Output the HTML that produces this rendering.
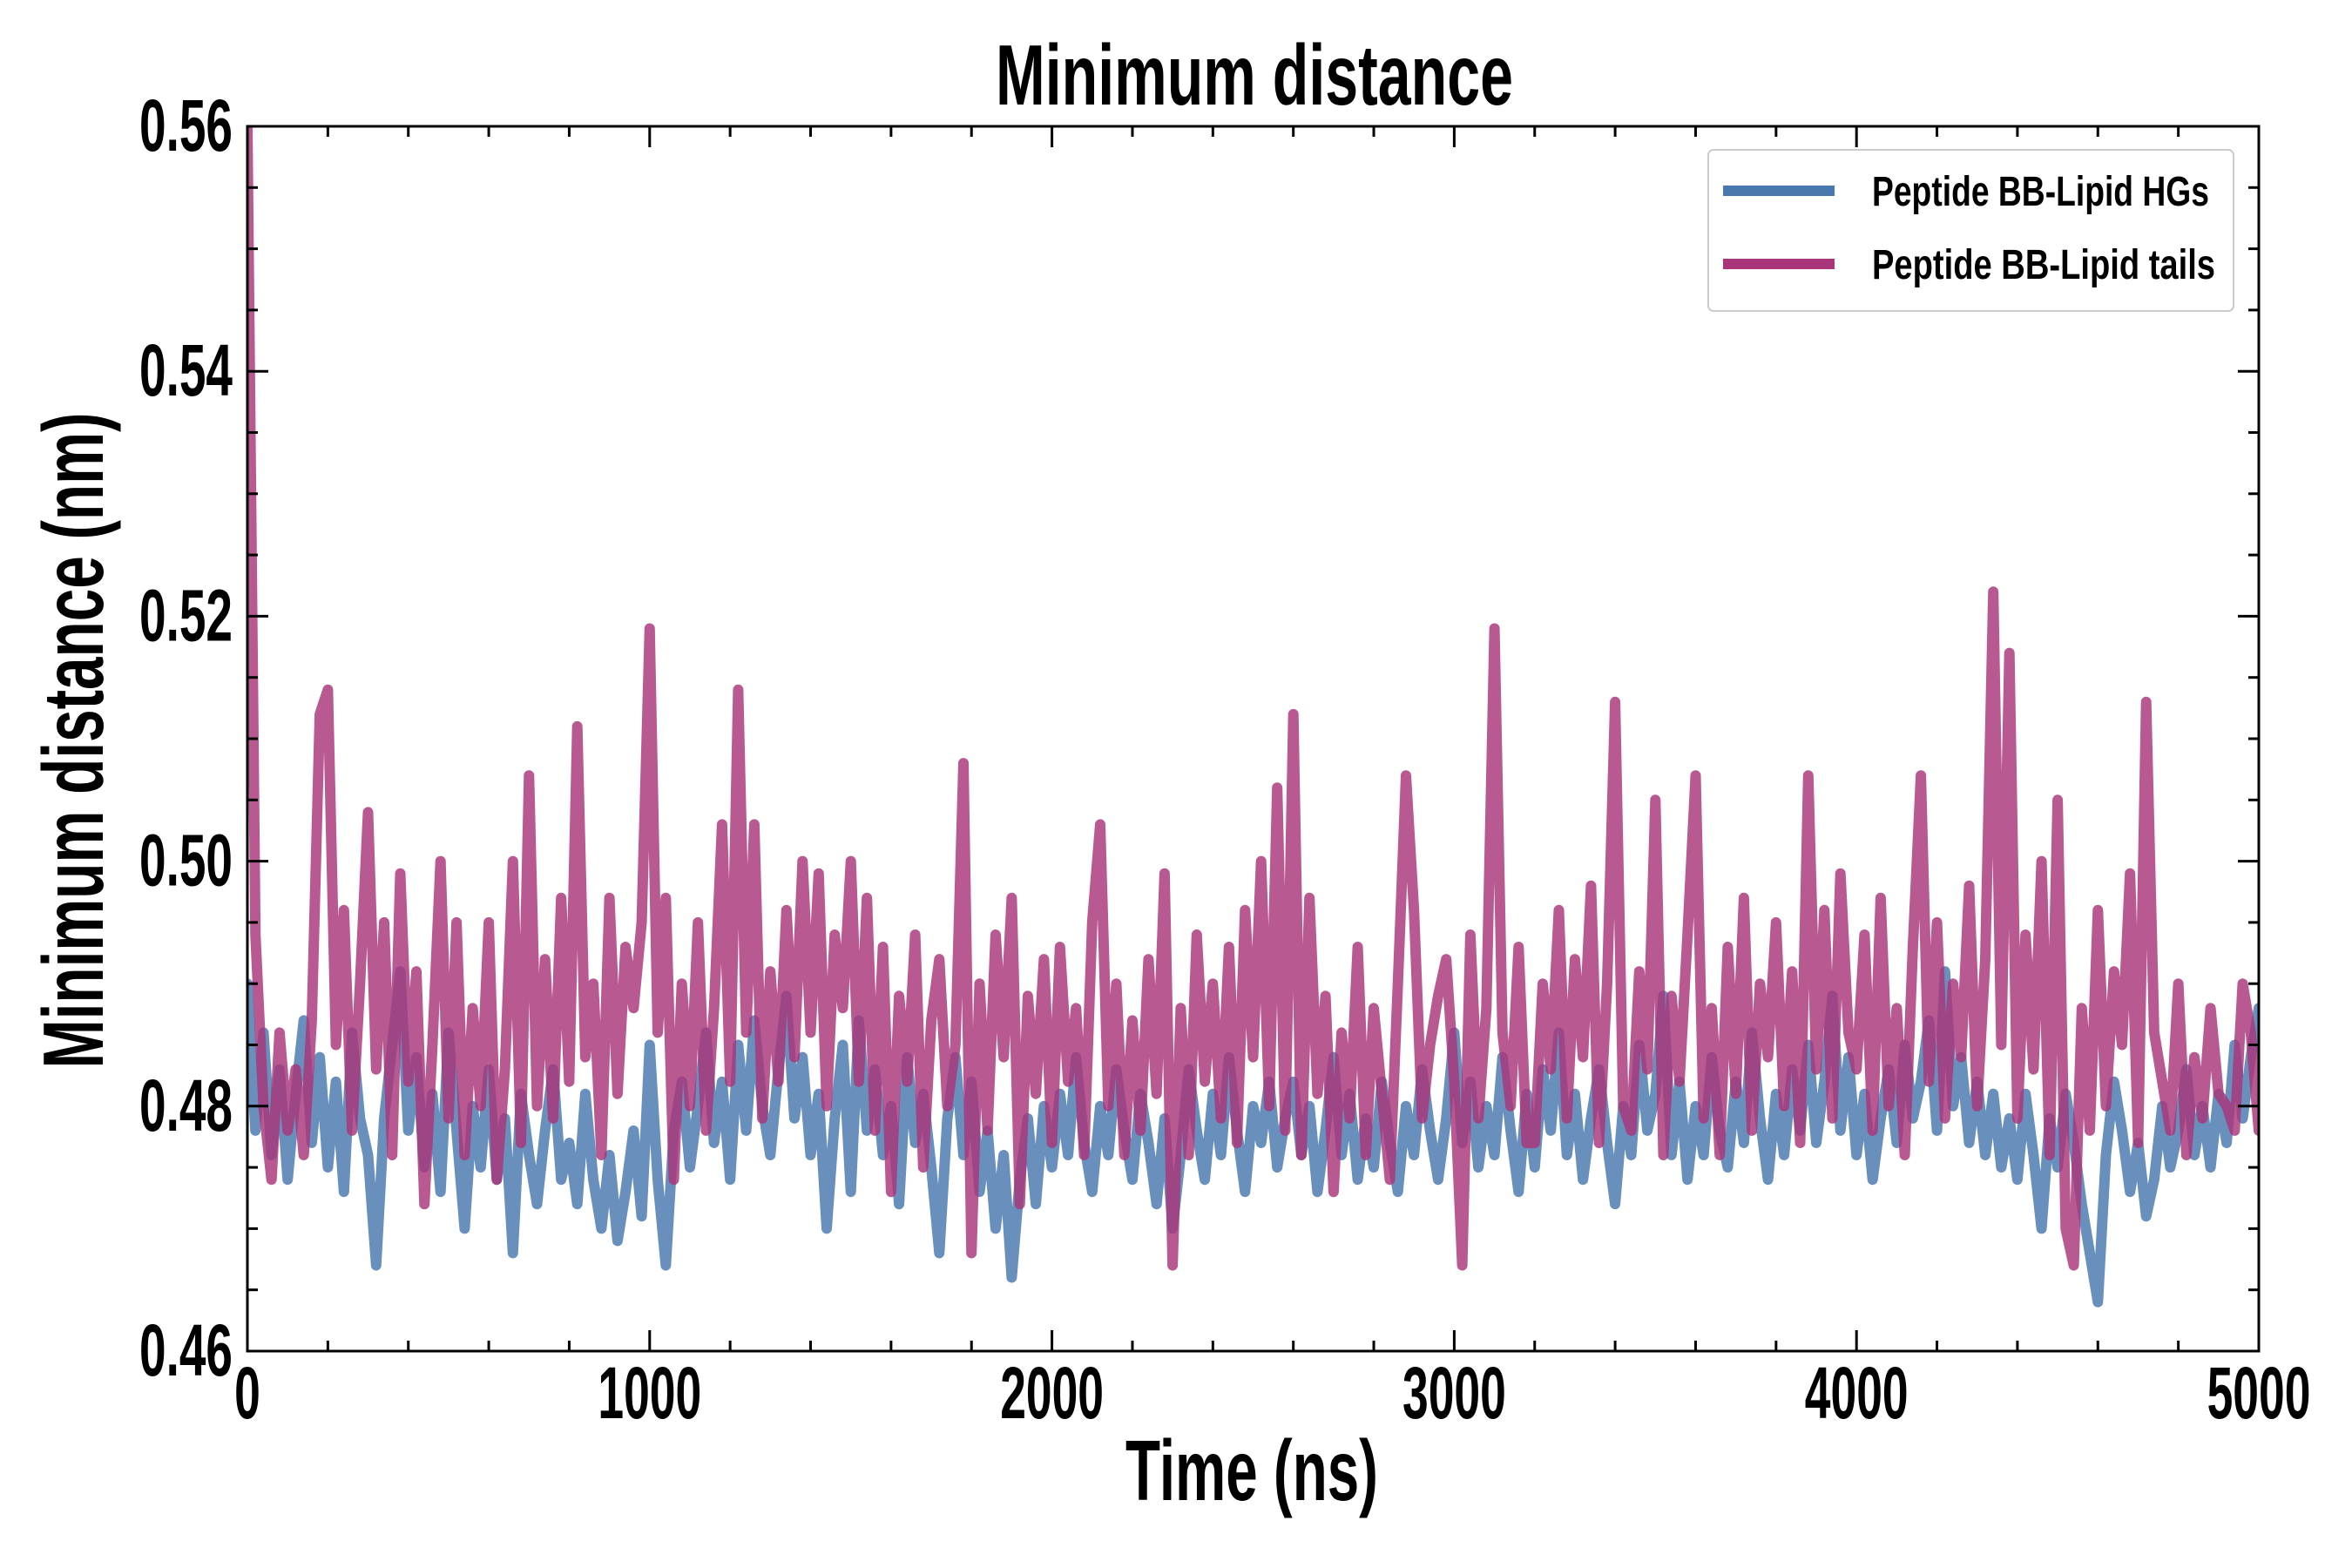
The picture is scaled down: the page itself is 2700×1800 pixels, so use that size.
<!DOCTYPE html>
<html><head><meta charset="utf-8"><title>Minimum distance</title>
<style>html,body{margin:0;padding:0;background:#fff;}svg{display:block;}
text{font-family:"Liberation Sans Narrow","Liberation Sans",sans-serif;font-weight:bold;fill:#000;}</style></head>
<body>
<svg id="chart" xmlns="http://www.w3.org/2000/svg" width="2700" height="1800" viewBox="0 0 2700 1800">
<rect width="2700" height="1800" fill="#fff"/>
<text x="1440" y="120" font-size="98" text-anchor="middle" textLength="594" lengthAdjust="spacingAndGlyphs">Minimum distance</text>
<text x="1437" y="1722" font-size="98" text-anchor="middle" textLength="290" lengthAdjust="spacingAndGlyphs">Time (ns)</text>
<text transform="translate(118,850) rotate(-90)" x="0" y="0" font-size="98" text-anchor="middle" textLength="753" lengthAdjust="spacingAndGlyphs">Minimum distance (nm)</text>
<g id="marks"></g>
<g id="axes"></g>
<g id="legend">
<rect x="1961" y="172" width="603" height="185" rx="6" fill="#fff" fill-opacity="0.8" stroke="#ccc" stroke-width="2"/>
<g>
<line x1="1978" y1="219" x2="2106" y2="219" stroke="#4878ae" stroke-width="12"/>
<text x="2149" y="236" font-size="48" textLength="387" lengthAdjust="spacingAndGlyphs">Peptide BB-Lipid HGs</text></g>
<g>
<line x1="1978" y1="303" x2="2106" y2="303" stroke="#a9357a" stroke-width="12"/>
<text x="2149" y="320" font-size="48" textLength="394" lengthAdjust="spacingAndGlyphs">Peptide BB-Lipid tails</text></g>
</g>
</svg>
<script>
const timeStep = 20;
const hgValues = [0.490,0.478,0.486,0.476,0.483,0.474,0.481,0.487,0.477,0.484,
0.475,0.482,0.473,0.486,0.479,0.476,0.467,0.479,0.485,0.491,
0.478,0.484,0.475,0.481,0.473,0.486,0.478,0.470,0.480,0.475,
0.483,0.474,0.479,0.468,0.481,0.476,0.472,0.478,0.483,0.474,
0.477,0.472,0.481,0.474,0.470,0.476,0.469,0.473,0.478,0.471,
0.485,0.474,0.467,0.478,0.482,0.475,0.480,0.486,0.477,0.482,
0.474,0.485,0.478,0.487,0.480,0.476,0.483,0.489,0.479,0.484,
0.476,0.481,0.470,0.479,0.485,0.473,0.487,0.478,0.483,0.476,
0.480,0.472,0.484,0.477,0.481,0.475,0.468,0.479,0.484,0.476,
0.482,0.473,0.478,0.470,0.476,0.466,0.474,0.479,0.472,0.480,
0.475,0.481,0.476,0.484,0.477,0.473,0.480,0.476,0.483,0.478,
0.474,0.481,0.477,0.472,0.479,0.470,0.476,0.483,0.478,0.474,
0.481,0.476,0.484,0.478,0.473,0.480,0.477,0.482,0.475,0.479,
0.482,0.476,0.480,0.473,0.478,0.484,0.476,0.481,0.474,0.479,
0.475,0.482,0.477,0.473,0.480,0.476,0.483,0.478,0.474,0.479,
0.486,0.477,0.482,0.475,0.480,0.476,0.484,0.478,0.473,0.481,
0.475,0.483,0.478,0.486,0.476,0.481,0.474,0.479,0.483,0.477,
0.472,0.480,0.476,0.485,0.478,0.481,0.489,0.476,0.482,0.474,
0.480,0.476,0.484,0.478,0.475,0.482,0.477,0.486,0.479,0.474,
0.481,0.476,0.483,0.478,0.485,0.477,0.482,0.489,0.478,0.484,
0.476,0.481,0.474,0.479,0.483,0.477,0.485,0.479,0.482,0.487,
0.478,0.491,0.480,0.484,0.477,0.482,0.476,0.481,0.475,0.479,
0.474,0.481,0.476,0.470,0.479,0.475,0.481,0.477,0.472,0.468,
0.464,0.476,0.482,0.478,0.473,0.477,0.471,0.474,0.480,0.475,
0.478,0.483,0.476,0.480,0.475,0.481,0.477,0.485,0.479,0.484,
0.488];
const tailValues = [0.560,0.494,0.480,0.474,0.486,0.478,0.483,0.476,0.487,0.512,
0.514,0.485,0.496,0.478,0.490,0.504,0.483,0.495,0.476,0.499,
0.482,0.491,0.472,0.485,0.500,0.479,0.495,0.476,0.488,0.480,
0.495,0.474,0.483,0.500,0.477,0.507,0.480,0.492,0.479,0.497,
0.482,0.511,0.484,0.490,0.476,0.497,0.481,0.493,0.488,0.495,
0.519,0.486,0.497,0.474,0.490,0.480,0.495,0.478,0.488,0.503,
0.482,0.514,0.486,0.503,0.479,0.491,0.482,0.496,0.484,0.500,
0.486,0.499,0.480,0.494,0.488,0.500,0.482,0.497,0.478,0.493,
0.473,0.489,0.482,0.494,0.475,0.487,0.492,0.480,0.485,0.508,
0.468,0.490,0.478,0.494,0.484,0.497,0.472,0.489,0.481,0.492,
0.477,0.493,0.482,0.488,0.476,0.495,0.503,0.480,0.490,0.476,
0.487,0.478,0.492,0.481,0.499,0.467,0.488,0.476,0.494,0.482,
0.490,0.479,0.493,0.477,0.496,0.484,0.500,0.480,0.506,0.478,
0.512,0.476,0.497,0.481,0.489,0.473,0.486,0.479,0.493,0.476,
0.488,0.481,0.474,0.490,0.507,0.496,0.479,0.485,0.489,0.492,
0.482,0.467,0.494,0.479,0.488,0.519,0.486,0.480,0.493,0.477,
0.477,0.490,0.483,0.496,0.479,0.492,0.484,0.498,0.477,0.490,
0.513,0.480,0.478,0.491,0.483,0.505,0.476,0.489,0.482,0.494,
0.507,0.479,0.488,0.476,0.493,0.481,0.497,0.478,0.490,0.484,
0.495,0.480,0.491,0.477,0.507,0.483,0.496,0.479,0.499,0.486,
0.483,0.494,0.478,0.497,0.480,0.488,0.476,0.493,0.507,0.482,
0.495,0.479,0.490,0.484,0.498,0.480,0.492,0.522,0.485,0.517,
0.479,0.494,0.483,0.500,0.476,0.505,0.470,0.467,0.488,0.478,
0.496,0.480,0.491,0.485,0.499,0.477,0.513,0.486,0.482,0.478,
0.490,0.476,0.484,0.479,0.488,0.481,0.480,0.478,0.490,0.486,
0.478];
const xTickLabels = ["0","1000","2000","3000","4000","5000"];
const yTickLabels = ["0.46","0.48","0.50","0.52","0.54","0.56"];

const L=284,R=2593,T=145,B=1551;
const X0=0,X1=5000,Y0=0.46,Y1=0.56;
function xs(v){return L+(v-X0)/(X1-X0)*(R-L);}
function ys(v){return B-(v-Y0)/(Y1-Y0)*(B-T);}
const NS="http://www.w3.org/2000/svg";
function mk(tag,attrs,parent){const e=document.createElementNS(NS,tag);for(const k in attrs)e.setAttribute(k,attrs[k]);parent.appendChild(e);return e;}

const marks=document.getElementById('marks');
const clip=mk('clipPath',{id:'pc'},marks);
mk('rect',{x:L,y:T,width:R-L,height:B-T},clip);
function series(vals,color,name){
  const d=vals.map((v,i)=>(i?'L':'M')+xs(i*timeStep).toFixed(1)+' '+ys(v).toFixed(1)).join(' ');
  const p=mk('path',{d:d,fill:'none',stroke:color,'stroke-width':12,'stroke-opacity':0.82,'stroke-linejoin':'round','stroke-linecap':'round','clip-path':'url(#pc)'},marks);
  
  
}
series(hgValues,'#4878ae','line-peptide-bb-lipid-hgs');
series(tailValues,'#a9357a','line-peptide-bb-lipid-tails');

const axes=document.getElementById('axes');
const frame=mk('rect',{x:L,y:T,width:R-L,height:B-T,fill:'none',stroke:'#000','stroke-width':3},axes);


for(let v=0;v<=5000;v+=200){
  const x=xs(v);const len=(v%1000===0)?24:12;
  mk('line',{x1:x,y1:B,x2:x,y2:B-len,stroke:'#000','stroke-width':3},axes);
  mk('line',{x1:x,y1:T,x2:x,y2:T+len,stroke:'#000','stroke-width':3},axes);
}
for(let i=0;i<=20;i++){
  const v=0.46+i*0.005;const y=ys(v);const len=(i%4===0)?24:12;
  mk('line',{x1:L,y1:y,x2:L+len,y2:y,stroke:'#000','stroke-width':3},axes);
  mk('line',{x1:R,y1:y,x2:R-len,y2:y,stroke:'#000','stroke-width':3},axes);
}
xTickLabels.forEach(s=>{
  const t=mk('text',{x:xs(+s),y:1628,'font-size':84,'text-anchor':'middle',textLength:s.length*29.7,lengthAdjust:'spacingAndGlyphs'},axes);
  t.textContent=s;
  
  
});
yTickLabels.forEach(s=>{
  const t=mk('text',{x:267,y:ys(+s)+28,'font-size':84,'text-anchor':'end',textLength:107,lengthAdjust:'spacingAndGlyphs'},axes);
  t.textContent=s;
  
  
});
</script>
</body></html>
